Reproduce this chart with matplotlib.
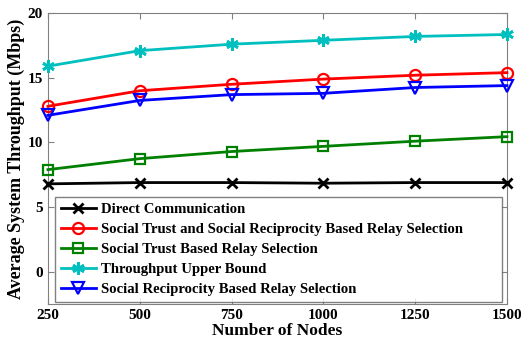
import matplotlib
matplotlib.use("Agg")
import matplotlib.pyplot as plt

nodes = [250, 500, 750, 1000, 1250, 1500]
direct = [6.8, 6.9, 6.9, 6.85, 6.9, 6.9]
trust_recip = [12.8, 14.0, 14.5, 14.9, 15.2, 15.4]
trust_only = [7.9, 8.75, 9.3, 9.7, 10.1, 10.45]
upper_bound = [15.9, 17.1, 17.6, 17.9, 18.2, 18.35]
recip_only = [12.1, 13.25, 13.7, 13.8, 14.25, 14.4]

labels = [
    "Direct Communication",
    "Social Trust and Social Reciprocity Based Relay Selection",
    "Social Trust Based Relay Selection",
    "Throughput Upper Bound",
    "Social Reciprocity Based Relay Selection",
]

plt.rcParams["font.family"] = ["Liberation Serif", "DejaVu Serif"]
plt.rcParams["font.weight"] = "bold"

fig = plt.figure(figsize=(5.21, 3.46), dpi=100)
ax = fig.add_axes([0.092, 0.121, 0.881, 0.841])

common = dict(lw=2, clip_on=False, zorder=3)
ax.plot(nodes, direct, color="black", marker="x", ms=7, mew=2, label=labels[0], **common)
ax.plot(nodes, trust_recip, color="red", marker="o", mfc="none", ms=8, mew=1.6,
        label=labels[1], **common)
ax.plot(nodes, trust_only, color="#008000", marker="s", mfc="none", ms=6.5, mew=1.6,
        label=labels[2], **common)
ax.plot(nodes, upper_bound, color="#00bfbf", marker=(6, 2, 0), ms=9, mew=2,
        label=labels[3], **common)
ax.plot(nodes, recip_only, color="blue", marker="v", mfc="none", ms=8, mew=1.6,
        label=labels[4], **common)

ax.set_xlim(250, 1500)
ax.set_ylim(-2.5, 20)
ax.set_xticks(nodes)
ax.set_yticks([0, 5, 10, 15, 20])
ax.tick_params(direction="in", top=True, right=True, labelsize=11, color="#808080", length=4)
for lab in ax.get_xticklabels() + ax.get_yticklabels():
    lab.set_fontweight("bold")
for s in ax.spines.values():
    s.set_color("#808080")

ax.set_xlabel("Number of Nodes", fontsize=12.5, fontweight="bold", labelpad=1)
ax.set_ylabel("Average System Throughput (Mbps)", fontsize=13, fontweight="bold", labelpad=2)

# legend box stretched across the lower part of the axes, MATLAB style
leg = ax.legend(loc="lower left", bbox_to_anchor=(0.015, 0.007, 0.974, 0.3), mode="expand",
                frameon=True, fancybox=False, edgecolor="#606060", borderaxespad=0.0,
                handlelength=2.4, labelspacing=0.45, handletextpad=0.35, borderpad=0.4,
                prop={"weight": "bold", "size": 10.6})
leg.get_frame().set_linewidth(1.0)
leg.set_zorder(5)

fig.savefig("out.png", dpi=100)
